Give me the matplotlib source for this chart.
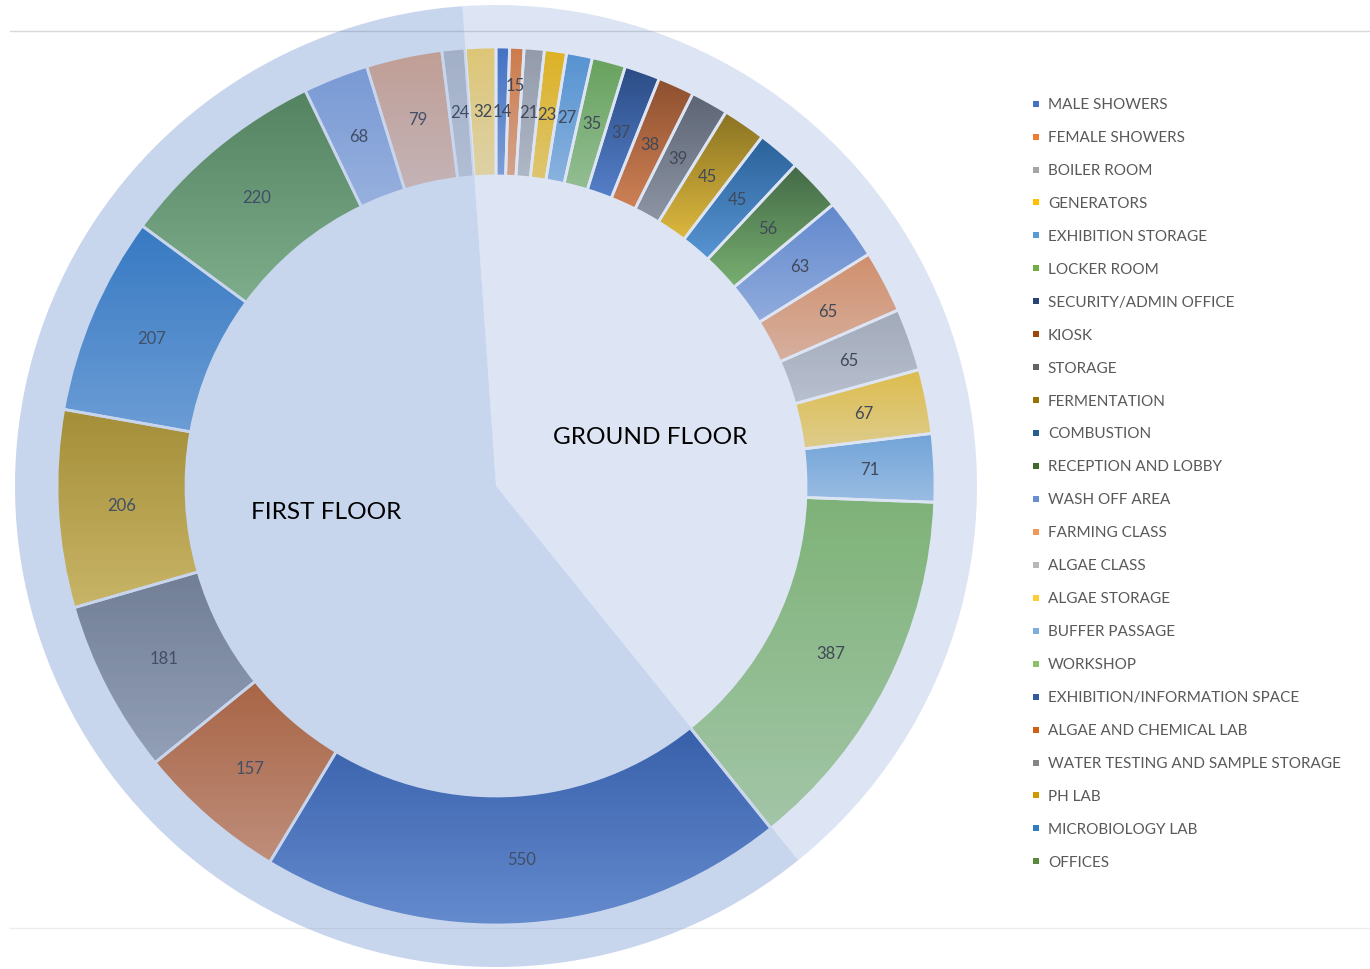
import colorsys
import numpy as np
import matplotlib
matplotlib.use("Agg")
import matplotlib.pyplot as plt
from matplotlib.colors import to_rgb
from matplotlib.lines import Line2D

plt.rcParams['font.family'] = ['Lato', 'DejaVu Sans']

# rooms, clockwise from 12 o'clock: ground floor first, then first floor
room_names = [
    'MALE SHOWERS', 'FEMALE SHOWERS', 'BOILER ROOM', 'GENERATORS',
    'EXHIBITION STORAGE', 'LOCKER ROOM', 'SECURITY/ADMIN OFFICE', 'KIOSK',
    'STORAGE', 'FERMENTATION', 'COMBUSTION', 'RECEPTION AND LOBBY',
    'WASH OFF AREA', 'FARMING CLASS', 'ALGAE CLASS', 'ALGAE STORAGE',
    'BUFFER PASSAGE', 'WORKSHOP', 'EXHIBITION/INFORMATION SPACE',
    'ALGAE AND CHEMICAL LAB', 'WATER TESTING AND SAMPLE STORAGE', 'PH LAB',
    'MICROBIOLOGY LAB', 'OFFICES',
]
room_area = [14, 15, 21, 23, 27, 35, 37, 38, 39, 45, 45, 56, 63, 65, 65, 67, 71, 387,
             550, 157, 181, 206, 207, 220, 68, 79, 24, 32]
room_colors = [
    '#4472C4', '#ED7D31', '#A5A5A5', '#FFC000', '#5B9BD5', '#70AD47',
    '#264478', '#9E480E', '#636363', '#997300', '#255E91', '#43682B',
    '#698ED0', '#F1975A', '#B7B7B7', '#FFCD33', '#7CAFDD', '#8CC168',
    '#335AA1', '#D26012', '#848484', '#CC9A00', '#327DC2', '#5A8A39',
    '#8FAADC', '#F4B183', '#C9C9C9', '#FFD966',
]

floor_names = ['GROUND FLOOR', 'FIRST FLOOR']
floor_share = [40.3, 59.7]   # split of the big background disc
floor_alpha = [0.18, 0.29]


def lighten(c, f):
    h, l, s = colorsys.rgb_to_hls(*to_rgb(c))
    return colorsys.hls_to_rgb(h, l + (1 - l) * f, s)


fig = plt.figure(figsize=(13.7, 9.69), dpi=100)
ax = fig.add_axes([0, 0, 1, 1])

# pixel geometry: centre (496, 486), big disc radius 481 px
R = 481.0
ring_r = 439 / R
ring_w = (439 - 310) / R

wedges, _ = ax.pie(room_area, radius=ring_r, startangle=90, counterclock=False,
                   colors=room_colors,
                   wedgeprops=dict(width=ring_w, edgecolor='white', linewidth=2))

# vertical gradient inside every segment (dark at top, lighter at bottom)
for w, c in zip(wedges, room_colors):
    bb = w.get_path().get_extents()
    top = np.array(to_rgb(c))
    bot = np.array(lighten(c, 0.38))
    t = np.linspace(0, 1, 128)[:, None, None]
    img = top * (1 - t) + bot * t
    im = ax.imshow(img, extent=(bb.x0, bb.x1, bb.y0, bb.y1), origin='upper',
                   interpolation='bilinear', aspect='auto', zorder=1)
    im.set_clip_path(w)
    w.set_facecolor('none')
    w.set_zorder(2)

r_mid = ring_r - ring_w / 2
for i, (w, v) in enumerate(zip(wedges, room_area)):
    ang = np.deg2rad((w.theta1 + w.theta2) / 2)
    r = 400 / R if v == 15 else r_mid
    ax.text(r * np.cos(ang), r * np.sin(ang), str(v), ha='center', va='center',
            fontsize=12, color='#404040', zorder=3)

# chart area border lines
ax.axhline((486 - 31) / R, xmin=10 / 1370, color='#D9D9D9', lw=1, zorder=3)
ax.axhline((486 - 928) / R, xmin=10 / 1370, color='#EDEDED', lw=1, zorder=3)

# translucent floor disc on top
floor_wedges, _ = ax.pie(floor_share, radius=1.0, startangle=94, counterclock=False,
                         colors=['#4472C4', '#4472C4'], wedgeprops=dict(linewidth=0))
for w, a in zip(floor_wedges, floor_alpha):
    w.set_alpha(a)
    w.set_zorder(4)

ax.text(154 / R, 48 / R, floor_names[0], ha='center', va='center', fontsize=17.6,
        color='black', zorder=5)
ax.text(-170 / R, -27 / R, floor_names[1], ha='center', va='center', fontsize=17.6,
        color='black', zorder=5)

ax.set_xlim(-496 / R, (1370 - 496) / R)
ax.set_ylim(-(969 - 486) / R, 486 / R)
ax.set_aspect('equal')
ax.axis('off')

handles = [Line2D([], [], ls='none', marker='s', markersize=4.5,
                  markerfacecolor=c, markeredgewidth=0) for c in room_colors[:24]]
leg = fig.legend(handles, room_names, loc='upper left',
                 bbox_to_anchor=(1031 / 1370, 1 - 98 / 969), frameon=False,
                 fontsize=11, labelspacing=1.24, handlelength=0.7,
                 handletextpad=0.4, borderpad=0, borderaxespad=0)
for t in leg.get_texts():
    t.set_color('#595959')

fig.savefig('out.png', dpi=100)
